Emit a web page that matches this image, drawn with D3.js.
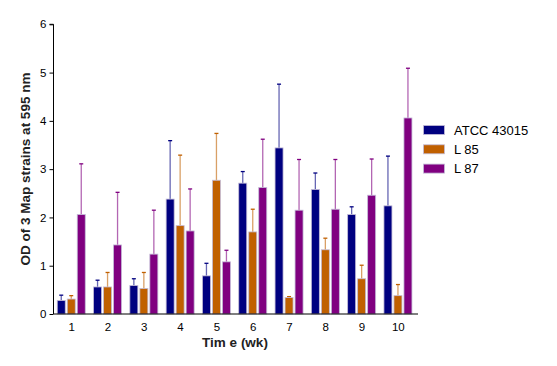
<!DOCTYPE html>
<html><head><meta charset="utf-8">
<script src="https://cdn.jsdelivr.net/npm/d3@7"></script>
<style>body{margin:0;background:#fff;} svg{display:block;}</style>
</head><body>
<script>
const weeks = ["1","2","3","4","5","6","7","8","9","10"];
const seriesNames = ["ATCC 43015","L 85","L 87"];
const colors = ["#000080","#C06000","#800080"];
const atccMean = [0.28,0.56,0.59,2.38,0.79,2.71,3.44,2.58,2.06,2.24];
const atccErr  = [0.11,0.14,0.14,1.21,0.26,0.24,1.32,0.34,0.16,1.03];
const l85Mean  = [0.31,0.56,0.53,1.83,2.77,1.70,0.34,1.33,0.73,0.38];
const l85Err   = [0.07,0.30,0.33,1.46,0.97,0.47,0.02,0.24,0.28,0.23];
const l87Mean  = [2.06,1.43,1.24,1.72,1.08,2.62,2.15,2.17,2.46,4.06];
const l87Err   = [1.05,1.09,0.91,0.87,0.24,1.00,1.05,1.03,0.75,1.03];
const yTicks = [0,1,2,3,4,5,6];

const means = [atccMean,l85Mean,l87Mean];
const errs = [atccErr,l85Err,l87Err];

const W=557,H=366;
const svg=d3.select("body").append("svg").attr("width",W).attr("height",H);
const x0=53.5, x1=416.5, xEnd=418, yTop=24.3, yBot=314;
const x=d3.scaleBand().domain(weeks).range([x0,x1]);
const y=d3.scaleLinear().domain([0,6]).range([yBot,yTop]);
const font="Liberation Sans, Arial, sans-serif";

const g=svg.append("g");
seriesNames.forEach((s,si)=>{
  const bw=8;
  weeks.forEach((w,i)=>{
    const cx=x(w)+x.bandwidth()/2 + (si-1)*10 - 0.4;
    const v=means[si][i], e=errs[si][i];
    g.append("line").attr("x1",cx).attr("x2",cx).attr("y1",y(v)).attr("y2",y(v+e))
      .attr("stroke",colors[si]).attr("stroke-opacity",0.6).attr("stroke-width",1.3);
    g.append("line").attr("x1",cx-2).attr("x2",cx+2).attr("y1",y(v+e)).attr("y2",y(v+e))
      .attr("stroke",colors[si]).attr("stroke-width",1.3);
    g.append("rect").attr("x",cx-bw/2).attr("width",bw).attr("y",y(v)).attr("height",yBot-y(v))
      .attr("fill",colors[si]).attr("stroke","#c4bcd8").attr("stroke-width",0.8);
  });
});

// y axis
const ya=svg.append("g").attr("transform",`translate(${x0},0)`)
  .call(d3.axisLeft(y).tickValues(yTicks).tickSize(4).tickPadding(3).tickFormat(d3.format("d")));
ya.select(".domain").attr("d",`M-4,${yTop}H0V${yBot}`).attr("stroke","#000");
ya.selectAll("text").attr("font-family",font).attr("font-size",11.5).attr("fill","#000");
// x axis
const xa=svg.append("g").attr("transform",`translate(0,${yBot})`)
  .call(d3.axisBottom(x).tickSize(0).tickPadding(9));
xa.select(".domain").attr("d",`M${x0},0H${xEnd}`).attr("stroke","#000");
xa.selectAll("text").attr("font-family",font).attr("font-size",11.5).attr("fill","#000");

svg.append("text").attr("x",235).attr("y",347).attr("text-anchor","middle")
  .attr("font-family",font).attr("font-weight","bold").attr("font-size",13.5).attr("fill","#222").text("Tim e (wk)");
svg.append("text").attr("transform","translate(30,169) rotate(-90)").attr("text-anchor","middle")
  .attr("font-family",font).attr("font-weight","bold").attr("font-size",13.5).attr("fill","#222").text("OD of 3 Map strains at 595 nm");

// legend
const leg=svg.append("g");
seriesNames.forEach((s,i)=>{
  const yy=125.5+i*19.3;
  leg.append("rect").attr("x",423.5).attr("y",yy).attr("width",21).attr("height",9)
    .attr("fill",colors[i]).attr("stroke","#c4bcd8").attr("stroke-width",0.8);
  leg.append("text").attr("x",454).attr("y",yy+9).attr("font-family",font).attr("font-size",13)
    .attr("fill","#000").text(s);
});
</script>
</body></html>
